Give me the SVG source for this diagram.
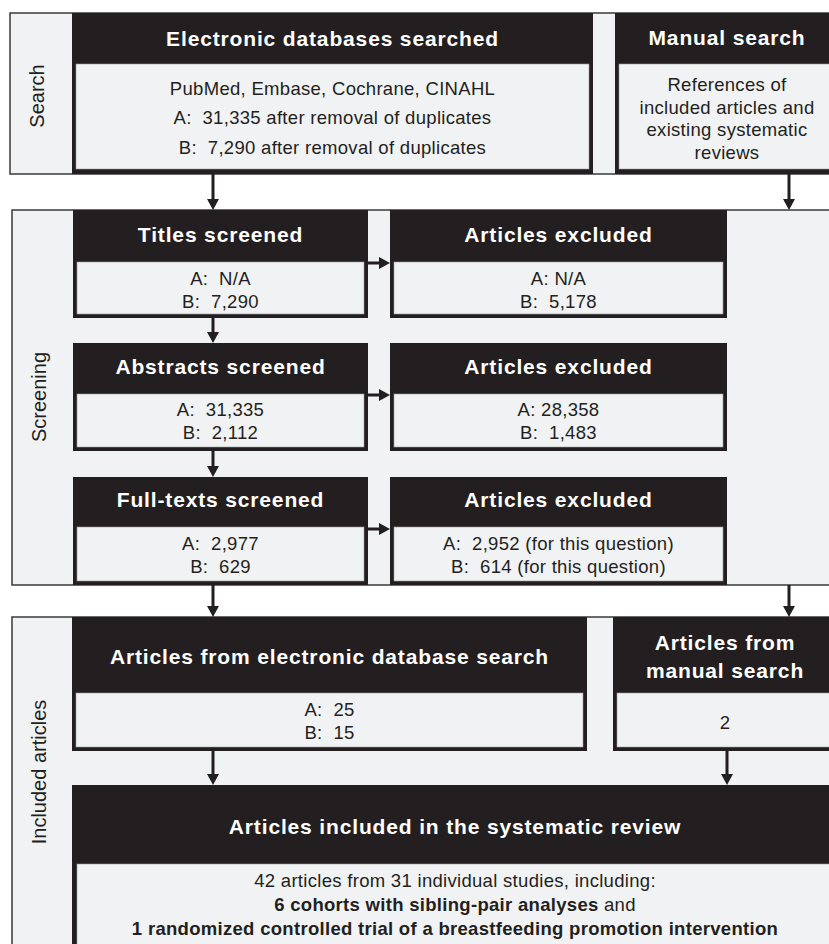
<svg xmlns="http://www.w3.org/2000/svg" width="829" height="944" viewBox="0 0 829 944">
<style>
.sec{fill:#f1f2f3;stroke:#3a3a3a;stroke-width:1.5}
.dark{fill:#231f20}
.body{fill:#f1f2f3;stroke:#9a9a9a;stroke-width:0.6}
.h{font-family:"Liberation Sans",Arial,sans-serif;font-weight:bold;font-size:21px;letter-spacing:0.85px;fill:#ffffff;text-anchor:middle}
.t{font-family:"Liberation Sans",Arial,sans-serif;font-size:18.5px;letter-spacing:0.3px;fill:#231f20;text-anchor:middle}
.b{font-weight:bold}
.lab{font-family:"Liberation Sans",Arial,sans-serif;font-size:20px;fill:#231f20;text-anchor:middle}
.arrow{stroke:#231f20;stroke-width:3;fill:none;marker-end:url(#ah)}
</style>
<defs>
<marker id="ah" markerUnits="userSpaceOnUse" markerWidth="13" markerHeight="13" viewBox="0 0 13 13" refX="2" refY="6" orient="auto">
<path d="M0,0 L11,6 L0,12 z" fill="#231f20"/>
</marker>
</defs>
<rect width="829" height="944" fill="#ffffff"/>

<g id="section-search">
<rect class="sec" x="10" y="13" width="830" height="161"/>
<text class="lab" transform="translate(44,96) rotate(-90)">Search</text>
</g>
<g id="section-screening">
<rect class="sec" x="12" y="210" width="830" height="375"/>
<text class="lab" transform="translate(46,397) rotate(-90)">Screening</text>
</g>
<g id="section-included">
<rect class="sec" x="12" y="617" width="830" height="340"/>
<text class="lab" transform="translate(46,772) rotate(-90)">Included articles</text>
</g>

<g id="electronic">
<rect class="dark" x="72" y="13" width="521" height="161"/>
<rect class="body" x="76" y="64" width="513" height="105"/>
<text class="h" x="332.5" y="46">Electronic databases searched</text>
<text class="t" x="332.5" y="94.5">PubMed, Embase, Cochrane, CINAHL</text>
<text class="t" x="332.5" y="123.5">A:&#160; 31,335 after removal of duplicates</text>
<text class="t" x="332.5" y="153.5">B:&#160; 7,290 after removal of duplicates</text>
</g>
<g id="manual">
<rect class="dark" x="615" y="13" width="224" height="161"/>
<rect class="body" x="619" y="64" width="216" height="105"/>
<text class="h" x="727" y="45">Manual search</text>
<text class="t" x="727" y="91">References of</text>
<text class="t" x="727" y="113.5">included articles and</text>
<text class="t" x="727" y="136">existing systematic</text>
<text class="t" x="727" y="158.5">reviews</text>
</g>

<g id="titles">
<rect class="dark" x="73" y="210" width="295" height="108"/>
<rect class="body" x="77" y="262" width="287" height="52"/>
<text class="h" x="220.5" y="242">Titles screened</text>
<text class="t" x="220.5" y="285">A:&#160; N/A</text>
<text class="t" x="220.5" y="307.5">B:&#160; 7,290</text>
</g>
<g id="excluded1">
<rect class="dark" x="390" y="210" width="337" height="108"/>
<rect class="body" x="394" y="262" width="329" height="52"/>
<text class="h" x="558.5" y="242">Articles excluded</text>
<text class="t" x="558.5" y="285">A: N/A</text>
<text class="t" x="558.5" y="307.5">B:&#160; 5,178</text>
</g>
<g id="abstracts">
<rect class="dark" x="73" y="343" width="295" height="108"/>
<rect class="body" x="77" y="394" width="287" height="53"/>
<text class="h" x="220.5" y="374">Abstracts screened</text>
<text class="t" x="220.5" y="415.5">A:&#160; 31,335</text>
<text class="t" x="220.5" y="439">B:&#160; 2,112</text>
</g>
<g id="excluded2">
<rect class="dark" x="390" y="343" width="337" height="108"/>
<rect class="body" x="394" y="394" width="329" height="53"/>
<text class="h" x="558.5" y="374">Articles excluded</text>
<text class="t" x="558.5" y="415.5">A: 28,358</text>
<text class="t" x="558.5" y="439">B:&#160; 1,483</text>
</g>
<g id="fulltexts">
<rect class="dark" x="73" y="477" width="295" height="108"/>
<rect class="body" x="77" y="527" width="287" height="54"/>
<text class="h" x="220.5" y="507">Full-texts screened</text>
<text class="t" x="220.5" y="549.5">A:&#160; 2,977</text>
<text class="t" x="220.5" y="572.5">B:&#160; 629</text>
</g>
<g id="excluded3">
<rect class="dark" x="390" y="477" width="337" height="108"/>
<rect class="body" x="394" y="527" width="329" height="54"/>
<text class="h" x="558.5" y="507">Articles excluded</text>
<text class="t" x="558.5" y="549.5">A:&#160; 2,952 (for this question)</text>
<text class="t" x="558.5" y="572.5">B:&#160; 614 (for this question)</text>
</g>

<g id="db-articles">
<rect class="dark" x="72" y="617" width="515" height="134"/>
<rect class="body" x="76" y="693" width="507" height="54"/>
<text class="h" x="329.5" y="664">Articles from electronic database search</text>
<text class="t" x="329.5" y="715.5">A:&#160; 25</text>
<text class="t" x="329.5" y="738.5">B:&#160; 15</text>
</g>
<g id="manual-articles">
<rect class="dark" x="613" y="617" width="226" height="134"/>
<rect class="body" x="617" y="693" width="218" height="54"/>
<text class="h" x="725" y="650">Articles from</text>
<text class="h" x="725" y="678">manual search</text>
<text class="t" x="725" y="728.5">2</text>
</g>
<g id="included">
<rect class="dark" x="72" y="785" width="767" height="170"/>
<rect class="body" x="77" y="864" width="758" height="90"/>
<text class="h" x="455" y="834">Articles included in the systematic review</text>
<text class="t" x="455" y="886.5">42 articles from 31 individual studies, including:</text>
<text class="t" x="455" y="911"><tspan class="b">6 cohorts with sibling-pair analyses</tspan> and</text>
<text class="t b" x="455" y="935">1 randomized controlled trial of a breastfeeding promotion intervention</text>
</g>

<g id="connectors">
<line class="arrow" x1="213" y1="174" x2="213" y2="201"/>
<line class="arrow" x1="789" y1="174" x2="789" y2="201"/>
<line class="arrow" x1="213" y1="318" x2="213" y2="334"/>
<line class="arrow" x1="213" y1="451" x2="213" y2="468"/>
<line class="arrow" x1="368" y1="263" x2="381" y2="263"/>
<line class="arrow" x1="368" y1="395" x2="381" y2="395"/>
<line class="arrow" x1="368" y1="529" x2="381" y2="529"/>
<line class="arrow" x1="213" y1="585" x2="213" y2="608"/>
<line class="arrow" x1="789" y1="585" x2="789" y2="608"/>
<line class="arrow" x1="213" y1="751" x2="213" y2="776"/>
<line class="arrow" x1="727" y1="751" x2="727" y2="776"/>
</g>
</svg>
